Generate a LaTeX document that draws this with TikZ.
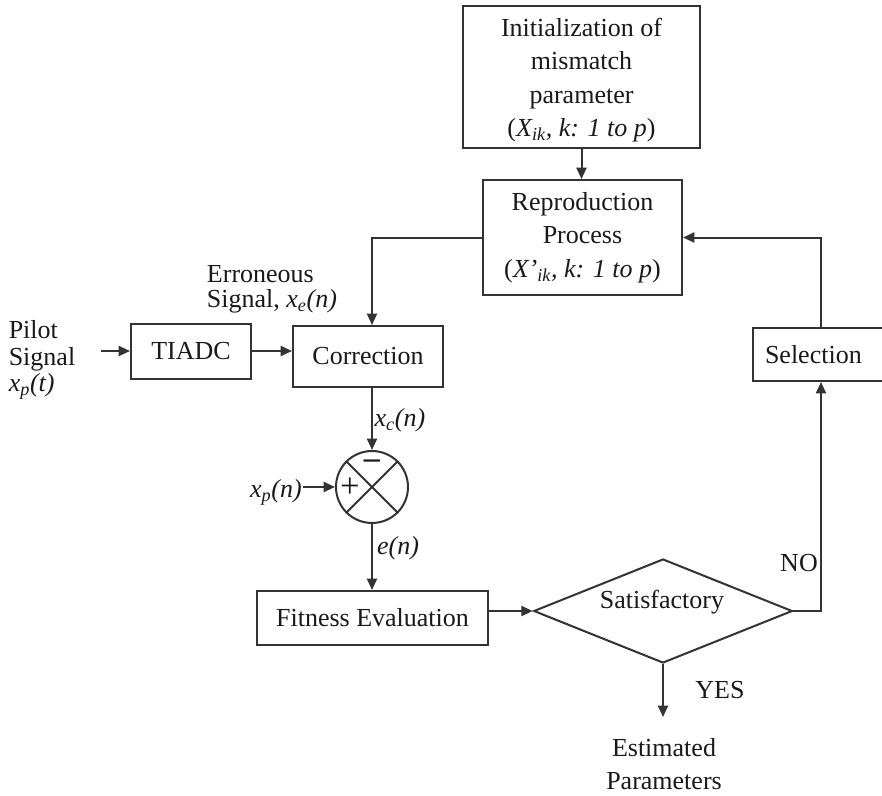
\documentclass[tikz,border=0pt]{standalone}
\usepackage{fontspec}
\setmainfont{Liberation Serif}
\usetikzlibrary{arrows.meta,shapes.geometric,calc}
\begin{document}
\begin{tikzpicture}[x=0.75pt,y=-0.75pt,
  every node/.style={font=\fontsize{19.5}{25}\selectfont, text=black!90},
  box/.style={draw=black!80,line width=1.5pt,align=center,inner sep=0pt},
  conn/.style={draw=black!80,line width=1.5pt},
  arr/.style={conn,-{Triangle[length=8.5pt,width=7.5pt]}},
  lbl/.style={inner sep=0pt,align=left}]
\useasboundingbox (0,0) rectangle (882,796);
\node[box,minimum width=177.75pt,minimum height=106.5pt] (init) at (581.5,77) {};
\node[inner sep=0pt,align=center] (inittxt) at (581.5,80)
  {Initialization of\\mismatch\\parameter\\(\textit{X\textsubscript{ik}, k: 1 to p})};
\node[box,minimum width=149.25pt,minimum height=86.25pt] (rep) at (582.5,237.5)
  {Reproduction\\Process\\(\textit{X’\textsubscript{ik}, k: 1 to p})};
\node[box,minimum width=90pt,minimum height=41.25pt] (tiadc) at (191,351)
  {TIADC};
\node[box,minimum width=112.5pt,minimum height=45.75pt] (corr) at (368,356.5)
  {Correction};
\node[box,minimum width=102pt,minimum height=39.75pt,text width=92pt,align=left] (sel) at (821,354.5)
  {\hspace*{4pt}Selection};
\node[draw=black!80,line width=1.5pt,circle,minimum size=54pt,inner sep=0pt] (sum) at (372,487) {};
\draw[conn] (sum.north west) -- (sum.south east) (sum.north east) -- (sum.south west);
\node[inner sep=0pt,font=\fontsize{24}{24}\selectfont] (minus) at ($(sum.center)+(0,-23)$) {\textbf{–}};
\node[inner sep=0pt,font=\fontsize{26}{26}\selectfont] (plus) at ($(sum.center)+(-22,1)$) {+};
\node[box,minimum width=173.25pt,minimum height=40.5pt] (fit) at (372.5,618)
  {Fitness Evaluation};
\node[draw=black!80,line width=1.5pt,diamond,aspect=2.5,minimum width=194pt,minimum height=78pt,inner sep=0pt] (dia) at (663,611) {};
\node[inner sep=0pt] (diatxt) at (662,602) {Satisfactory};
\node[lbl,font=\fontsize{19.5}{20}\selectfont] (pilot) at (42,360) {Pilot\\Signal\\\textit{x\textsubscript{p}(t)}};
\node[lbl,font=\fontsize{19.5}{19}\selectfont] (err) at (272,289) {Erroneous\\Signal, \textit{x\textsubscript{e}(n)}};
\node[lbl] (xc) at (400,420) {\textit{x\textsubscript{c}(n)}};
\node[lbl] (xp) at (276,492) {\textit{x\textsubscript{p}(n)}};
\node[lbl] (en) at (398,548) {\textit{e(n)}};
\node[lbl] (no) at (799,563) {NO};
\node[lbl] (yes) at (720,690) {YES};
\node[lbl,align=center] (est) at (664,764) {Estimated\\Parameters};
\coordinate (pin) at (101,351);
\coordinate (xpin) at (303,487);
\coordinate (estin) at (663,717);
\draw[arr] (init.south) -- (init.south |- rep.north);
\draw[arr] (rep.west) -| (sum.north |- corr.north);
\draw[arr] (pin) -- (tiadc.west);
\draw[arr] (tiadc.east) -- (tiadc.east -| corr.west);
\draw[arr] (sum.north |- corr.south) -- (sum.north);
\draw[arr] (xpin) -- (sum.west);
\draw[arr] (sum.south) -- (sum.south |- fit.north);
\draw[arr] (dia.west -| fit.east) -- (dia.west);
\draw[arr] (dia.east) -| (sel.south);
\draw[arr] (sel.north) |- (rep.east);
\draw[arr] (dia.south) -- (estin);
\end{tikzpicture}
\end{document}
